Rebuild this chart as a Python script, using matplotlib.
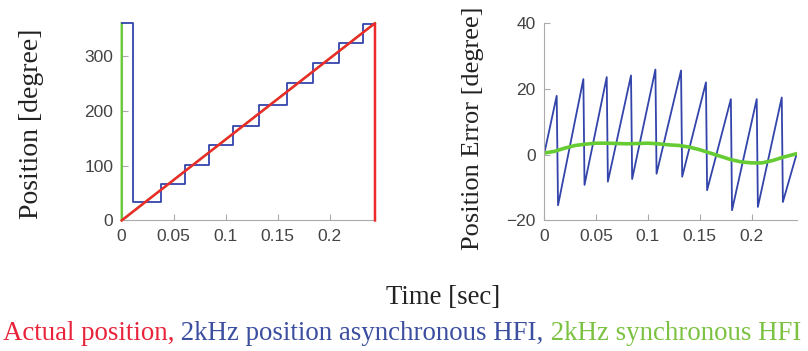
import numpy as np
import matplotlib.pyplot as plt

# left panel: position traces
act_t = [0, 0.2436, 0.2436]
act_pos = [0, 360, 0]
sync_t = [0, 0, 0.2436]
sync_pos = [360, 0, 360]
step_t = [0, 0.0112, 0.0378, 0.0609, 0.0843, 0.1073, 0.1323, 0.1587, 0.184, 0.209, 0.2323, 0.2436]
step_pos = [360, 33.5, 67, 102, 138, 172, 211, 250, 288, 324, 358, 358]

# right panel: position error
err_t = [0, 0.0122, 0.0135, 0.0379, 0.0390, 0.0604, 0.0615, 0.0838, 0.0849, 0.1073, 0.1084,
         0.132, 0.1331, 0.156, 0.1571, 0.180, 0.1811, 0.2049, 0.206, 0.229, 0.2301, 0.2434]
err_async = [0, 17.9, -15.4, 23, -9.2, 23.6, -8.2, 24.1, -7.4, 25.9, -5.8,
             25.6, -6.7, 22, -10.8, 16.9, -16.9, 16.9, -15.9, 17.4, -14.4, 0.3]
sync_err_t = [0, 0.01, 0.02, 0.03, 0.04, 0.05, 0.06, 0.07, 0.08, 0.09, 0.1, 0.11, 0.12,
              0.13, 0.14, 0.15, 0.16, 0.17, 0.18, 0.19, 0.2, 0.21, 0.22, 0.23, 0.2434]
sync_err = [0.5, 1.0, 2.0, 2.8, 3.2, 3.5, 3.5, 3.4, 3.3, 3.4, 3.5, 3.3, 3.0,
            2.8, 2.3, 1.5, 0.5, -0.5, -1.5, -2.2, -2.5, -2.5, -1.8, -0.8, 0.3]

red = '#ee2a2a'
blue = '#3344aa'
green = '#66cc33'
serif = 'Liberation Serif'

fig = plt.figure(figsize=(8.08, 3.51), dpi=100)
ax1 = fig.add_axes([0.1506, 0.372, 0.3135, 0.562])
ax2 = fig.add_axes([0.6733, 0.372, 0.3127, 0.562])

ax1.plot(sync_t, sync_pos, color=green, lw=1.6, zorder=3, clip_on=False)
ax1.step(step_t, step_pos, where='post', color=blue, lw=1.3, zorder=3, clip_on=False)
ax1.plot(act_t, act_pos, color=red, lw=1.8, zorder=4, clip_on=False)
ax1.set_xlim(0, 0.2436)
ax1.set_ylim(0, 360)
ax1.set_yticks([0, 100, 200, 300])

ax2.plot(err_t, err_async, color=blue, lw=1.3)
ax2.plot(sync_err_t, sync_err, color=green, lw=2.6)
ax2.set_xlim(0, 0.2434)
ax2.set_ylim(-20, 40)
ax2.set_yticks([-20, 0, 20, 40])

for ax in (ax1, ax2):
    ax.set_xticks([0, 0.05, 0.1, 0.15, 0.2])
    ax.set_xticklabels(['0', '0.05', '0.1', '0.15', '0.2'])
    for s in ('top', 'right'):
        ax.spines[s].set_visible(False)
    for s in ('left', 'bottom'):
        ax.spines[s].set_color('#aaaaaa')
    ax.tick_params(direction='in', length=4, color='#aaaaaa', labelsize=12.5,
                   labelcolor='#444444', pad=6)
    for lab in ax.get_xticklabels() + ax.get_yticklabels():
        lab.set_family('Liberation Sans')

fig.text(0.039, 0.648, 'Position [degree]', rotation=90, ha='center', va='center',
         family=serif, fontsize=20, color='#222222')
fig.text(0.585, 0.635, 'Position Error [degree]', rotation=90, ha='center', va='center',
         family=serif, fontsize=19, color='#222222')
fig.text(0.548, 0.151, 'Time [sec]', ha='center', va='center',
         family=serif, fontsize=19.3, color='#222222')

# coloured legend line made of text pieces
pieces = [('Actual position,', '#e8233a'),
          (' 2kHz position asynchronous HFI,', '#3b4ea0'),
          (' 2kHz synchronous HFI', '#7cc242')]
renderer = fig.canvas.get_renderer()
x = 3 / 808
for txt, col in pieces:
    t = fig.text(x, 0.051, txt, ha='left', va='center', family=serif,
                 fontsize=19.4, color=col)
    bb = t.get_window_extent(renderer)
    x = bb.x1 / fig.bbox.width

fig.savefig('out.png', dpi=100)
